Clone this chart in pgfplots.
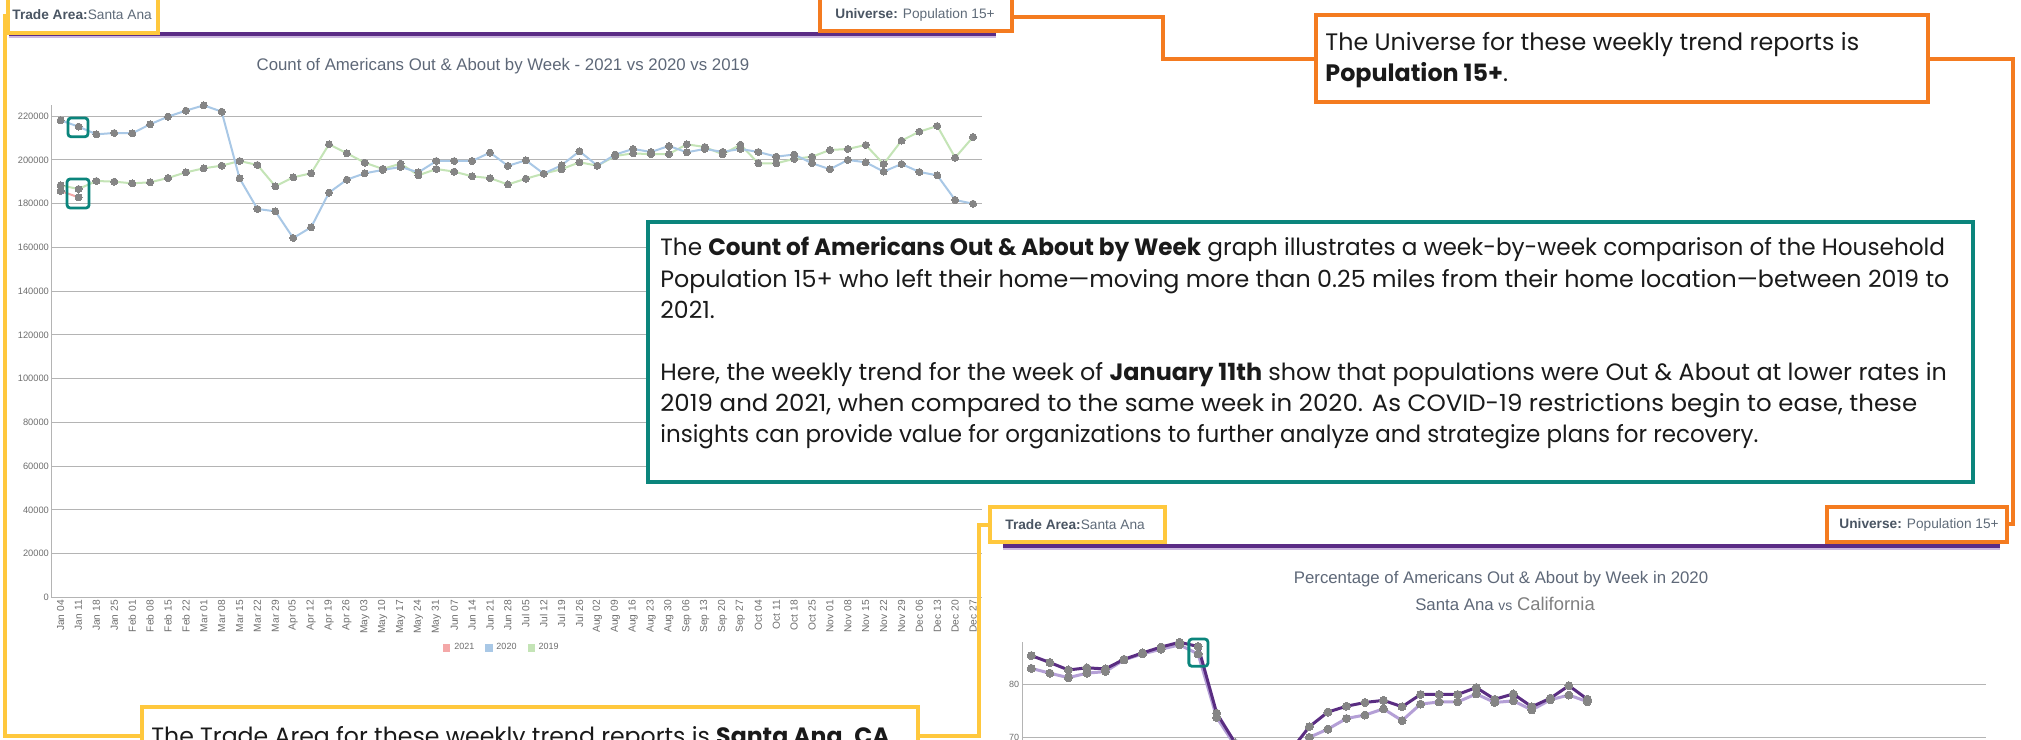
\documentclass[border=0pt]{standalone}
\usepackage{graphicx}
\usepackage{pgfplots}
\pgfplotsset{compat=1.18}
\usepackage{pgfplotstable}
\usepackage{fontspec}
\setmainfont{Liberation Sans}
\newfontfamily\pop{Poppins}
\newcommand{\fs}[1]{\fontsize{#1}{#1}\selectfont}
\definecolor{ygold}{HTML}{FFC83D}
\definecolor{orng}{HTML}{F47B20}
\definecolor{tealc}{HTML}{0B857C}
\definecolor{purp}{HTML}{5B2C86}
\definecolor{lav}{HTML}{CDB9E0}
\definecolor{hdrb}{HTML}{4A5563}
\definecolor{hdr}{HTML}{5F6B79}
\definecolor{titlec}{HTML}{5E6878}
\definecolor{c2020}{HTML}{A9C8E6}
\definecolor{c2019}{HTML}{C4E4B6}
\definecolor{c2021}{HTML}{F4A8A8}
\definecolor{mk}{HTML}{858585}
\definecolor{gridc}{HTML}{B4B4B4}
\definecolor{ticklab}{HTML}{6E6E6E}
\definecolor{sa}{HTML}{5A2D82}
\definecolor{ca}{HTML}{B49FD6}
\definecolor{txt}{HTML}{1A1A1A}

\pgfplotstableread{
x y
0 218130
1 215240
2 211730
3 212340
4 212190
5 216310
6 219810
7 222550
8 224990
9 222090
10 191620
11 177600
12 176530
13 164340
14 169220
15 185060
16 191010
17 193910
18 195430
19 196800
20 194360
21 199540
22 199540
23 199540
24 203400
25 197300
26 199860
27 193750
28 197600
29 204000
30 197400
31 202500
32 205030
33 203660
34 206400
35 203520
36 205030
37 203700
38 205030
39 203660
40 201520
41 202500
42 198500
43 195770
44 200000
45 198950
46 194670
47 198170
48 194510
49 192980
50 181710
51 180010
}\tbA

\pgfplotstableread{
x y
0 188420
1 186740
2 190400
3 190090
4 189330
5 189790
6 191770
7 194360
8 196190
9 197410
10 199540
11 197710
12 187960
13 192080
14 193910
15 207160
16 203050
17 198780
18 195900
19 198320
20 192990
21 195880
22 194660
23 192530
24 191700
25 188800
26 191450
27 193750
28 195800
29 198950
30 197400
31 201800
32 203060
33 202600
34 202740
35 207160
36 205940
37 202600
38 207000
39 198490
40 198490
41 200500
42 201500
43 204570
44 205030
45 206860
46 198170
47 208840
48 212950
49 215540
50 201060
51 210520
}\tbB

\pgfplotstableread{
x y
0 185830
1 182930
}\tbC

\pgfplotstableread{
x sa ca
0 85.4 83.0
1 84.1 82.1
2 82.7 81.25
3 83.1 82.1
4 82.9 82.4
5 84.7 84.6
6 85.9 85.7
7 87.0 86.6
8 87.9 87.4
9 87.1 85.7
10 74.6 73.8
11 69.0 68.5
12 66.0 65.0
13 65.5 64.5
14 67.6 66.0
15 72.06 70.06
16 74.8 71.6
17 75.9 73.6
18 76.6 74.25
19 77.0 75.4
20 75.8 73.2
21 78.1 76.3
22 78.1 76.7
23 78.1 76.7
24 79.4 78.2
25 77.2 76.6
26 78.2 76.9
27 75.8 75.2
28 77.4 77.1
29 79.75 78.0
30 77.2 76.75
}\tbD

\begin{document}
\begin{tikzpicture}[x=0.5pt,y=0.5pt]
\begin{scope}
\clip (0,0) rectangle (2021,739);
\fill[white] (0,0) rectangle (2021,739);

% ---------------- Chart 1 ----------------
\begin{axis}[
  at={(25.85pt,70.75pt)}, anchor=south west,
  scale only axis, width=465.15pt, height=246.1pt,
  xmin=-0.5, xmax=51.5, ymin=0, ymax=225000,
  axis x line*=bottom, axis y line*=left,
  axis line style={gridc, line width=0.5pt, -},
  ymajorgrids, grid style={gridc, line width=0.5pt},
  ytick={0,20000,...,220000},
  scaled y ticks=false,
  /pgf/number format/fixed,
  /pgf/number format/set thousands separator={},
  /pgf/number format/assume math mode=true,
  yticklabel style={font=\fs{4.65pt}, text=ticklab, inner sep=1.2pt},
  xtick={0,...,51},
  xticklabels={Jan 04,Jan 11,Jan 18,Jan 25,Feb 01,Feb 08,Feb 15,Feb 22,Mar 01,Mar 08,Mar 15,Mar 22,Mar 29,Apr 05,Apr 12,Apr 19,Apr 26,May 03,May 10,May 17,May 24,May 31,Jun 07,Jun 14,Jun 21,Jun 28,Jul 05,Jul 12,Jul 19,Jul 26,Aug 02,Aug 09,Aug 16,Aug 23,Aug 30,Sep 06,Sep 13,Sep 20,Sep 27,Oct 04,Oct 11,Oct 18,Oct 25,Nov 01,Nov 08,Nov 15,Nov 22,Nov 29,Dec 06,Dec 13,Dec 20,Dec 27},
  xticklabel style={rotate=90, anchor=east, font=\fs{5.1pt}, text=ticklab, inner sep=1.2pt},
  major tick length=0pt,
  clip=false,
  legend style={at={(0.485,-0.1026)}, anchor=center, draw=none, fill=none,
    legend columns=3, font=\fs{4.5pt}, text=ticklab, inner sep=0pt,
    /tikz/every even column/.append style={column sep=3.5pt}},
  legend cell align=left,
]
\addlegendimage{legend image code/.code={\fill[c2021] (0pt,-1.6pt) rectangle (3.2pt,1.6pt);}}
\addlegendentry{2021}
\addlegendimage{legend image code/.code={\fill[c2020] (0pt,-1.6pt) rectangle (3.2pt,1.6pt);}}
\addlegendentry{2020}
\addlegendimage{legend image code/.code={\fill[c2019] (0pt,-1.6pt) rectangle (3.2pt,1.6pt);}}
\addlegendentry{2019}
\addplot[c2019, line width=1pt, forget plot] table[x=x,y=y] {\tbB};
\addplot[c2020, line width=1pt, forget plot] table[x=x,y=y] {\tbA};
\addplot[c2021, line width=1pt, forget plot] table[x=x,y=y] {\tbC};
\addplot[only marks, color=mk, mark=*, mark size=1.75pt, mark options={fill=mk, draw=mk, line width=0pt}, forget plot] table[x=x,y=y] {\tbB};
\addplot[only marks, color=mk, mark=*, mark size=1.75pt, mark options={fill=mk, draw=mk, line width=0pt}, forget plot] table[x=x,y=y] {\tbA};
\addplot[only marks, color=mk, mark=*, mark size=1.75pt, mark options={fill=mk, draw=mk, line width=0pt}, forget plot] table[x=x,y=y] {\tbC};
\draw[tealc, line width=1.4pt, rounded corners=1.5pt] (axis cs:0.41,219200) rectangle (axis cs:1.53,210630);
\draw[tealc, line width=1.4pt, rounded corners=1.5pt] (axis cs:0.36,191310) rectangle (axis cs:1.59,178060);
\end{axis}

% ---------------- Chart 2 ----------------
\begin{axis}[
  at={(511pt,-185.85pt)}, anchor=south west,
  scale only axis, width=482pt, height=234.5pt,
  xmin=-0.5, xmax=51.5, ymin=0, ymax=88,
  axis y line*=left, axis x line=none,
  axis line style={gridc, line width=0.5pt, -},
  ymajorgrids, grid style={gridc, line width=0.5pt},
  ytick={0,10,...,80},
  /pgf/number format/assume math mode=true,
  yticklabel style={font=\fs{4.5pt}, text=ticklab, inner sep=1.2pt},
  xtick=\empty,
  major tick length=0pt,
  clip=false,
]
\addplot[ca, line width=1.5pt] table[x=x,y=ca] {\tbD};
\addplot[sa, line width=1.5pt] table[x=x,y=sa] {\tbD};
\addplot[only marks, color=mk, mark=*, mark size=2pt, mark options={fill=mk, draw=mk, line width=0pt}] table[x=x,y=ca] {\tbD};
\addplot[only marks, color=mk, mark=*, mark size=2pt, mark options={fill=mk, draw=mk, line width=0pt}] table[x=x,y=sa] {\tbD};
\draw[tealc, line width=1.4pt, rounded corners=1.5pt] (axis cs:8.5,88.5) rectangle (axis cs:9.53,83.4);
\end{axis}

% ---------------- Headers ----------------
\draw[purp, line width=2pt] (9,705) -- (996,705);
\draw[lav, line width=0.8pt] (9,702.2) -- (996,702.2);
\draw[purp, line width=2pt] (1003,193) -- (2000,193);
\draw[lav, line width=0.8pt] (1003,190.2) -- (2000,190.2);

\node[anchor=center, text=titlec, font=\fs{8.4pt}] at (503,672.5) {Count of Americans Out \& About by Week - 2021 vs 2020 vs 2019};
\node[anchor=center, text=titlec, font=\fs{8.4pt}] at (1501,160) {Percentage of Americans Out \& About by Week in 2020};
\node[anchor=center, text=titlec] at (1505,135) {\fs{8.4pt}Santa Ana {\fs{7pt}vs} \textcolor{gray}{\fs{9.2pt}California}};

% yellow
\draw[ygold, line width=2pt] (8,744) rectangle (158,706);
\node[anchor=west, inner sep=0pt] at (12,724) {\fs{6.85pt}\textcolor{hdrb}{\textbf{Trade Area:}}\textcolor{hdr}{Santa Ana}};
\draw[ygold, line width=1.8pt] (5,725) -- (5,3) -- (142,3);
\draw[ygold, line width=1.8pt] (918,3) -- (979,3) -- (979,214) -- (990,214);
\draw[ygold, line width=2pt, fill=white] (142,32) rectangle (918,-40);
\node[anchor=base west, inner sep=0pt, text=txt] at (151,-5) {\pop\fs{11.8pt}The Trade Area for these weekly trend reports is \textbf{Santa Ana, CA}};
\draw[ygold, line width=2pt] (990,232) rectangle (1165,197);
\node[anchor=west, inner sep=0pt] at (1005,214) {\fs{6.85pt}\textcolor{hdrb}{\textbf{Trade Area:}}\textcolor{hdr}{Santa Ana}};

% orange
\draw[orng, line width=2pt] (820,744) rectangle (1012,708);
\node[anchor=west, inner sep=0pt] at (835,724) {\fs{6.85pt}\textcolor{hdrb}{\textbf{Universe:}} \textcolor{hdr}{Population 15+}};
\draw[orng, line width=1.6pt] (1012,722) -- (1163,722) -- (1163,680) -- (1316,680);
\draw[orng, line width=2pt, fill=white] (1316,724) rectangle (1928,637);
\node[anchor=base west, inner sep=0pt, text=txt] at (1325,688.3) {\pop\fs{11.9pt}The Universe for these weekly trend reports is};
\node[anchor=base west, inner sep=0pt, text=txt] at (1325,657) {\pop\fs{11.9pt}\textbf{Population 15+}.};
\draw[orng, line width=1.6pt] (1928,680) -- (2013,680) -- (2013,215) -- (2007,215);
\draw[orng, line width=2pt] (1827,232) rectangle (2007,197);
\node[anchor=west, inner sep=0pt] at (1839,214) {\fs{6.85pt}\textcolor{hdrb}{\textbf{Universe:}} \textcolor{hdr}{Population 15+}};

% teal
\draw[tealc, line width=2pt, fill=white] (648,517) rectangle (1973,257);
\begin{scope}[every node/.style={anchor=base west, inner sep=0pt, text=txt, font=\pop\fs{11.8pt}}]
\node at (660,483) {\scalebox{0.981}[1]{The \textbf{Count of Americans Out \& About by Week} graph illustrates a week-by-week comparison of the Household}};
\node at (660,451.9) {\scalebox{1.008}[1]{Population 15+ who left their home—moving more than 0.25 miles from their home location—between 2019 to}};
\node at (660,420.8) {2021.};
\node at (660,358.6) {\scalebox{1.011}[1]{Here, the weekly trend for the week of \textbf{January 11th} show that populations were Out \& About at lower rates in}};
\node at (660,327.5) {\scalebox{1.038}[1]{2019 and 2021, when compared to the same week in 2020. As COVID-19 restrictions begin to ease, these}};
\node at (660,296.4) {\scalebox{0.975}[1]{insights can provide value for organizations to further analyze and strategize plans for recovery.}};
\end{scope}
\end{scope}
\pgfresetboundingbox
\useasboundingbox (0,0) rectangle (2021,739);
\end{tikzpicture}
\end{document}
